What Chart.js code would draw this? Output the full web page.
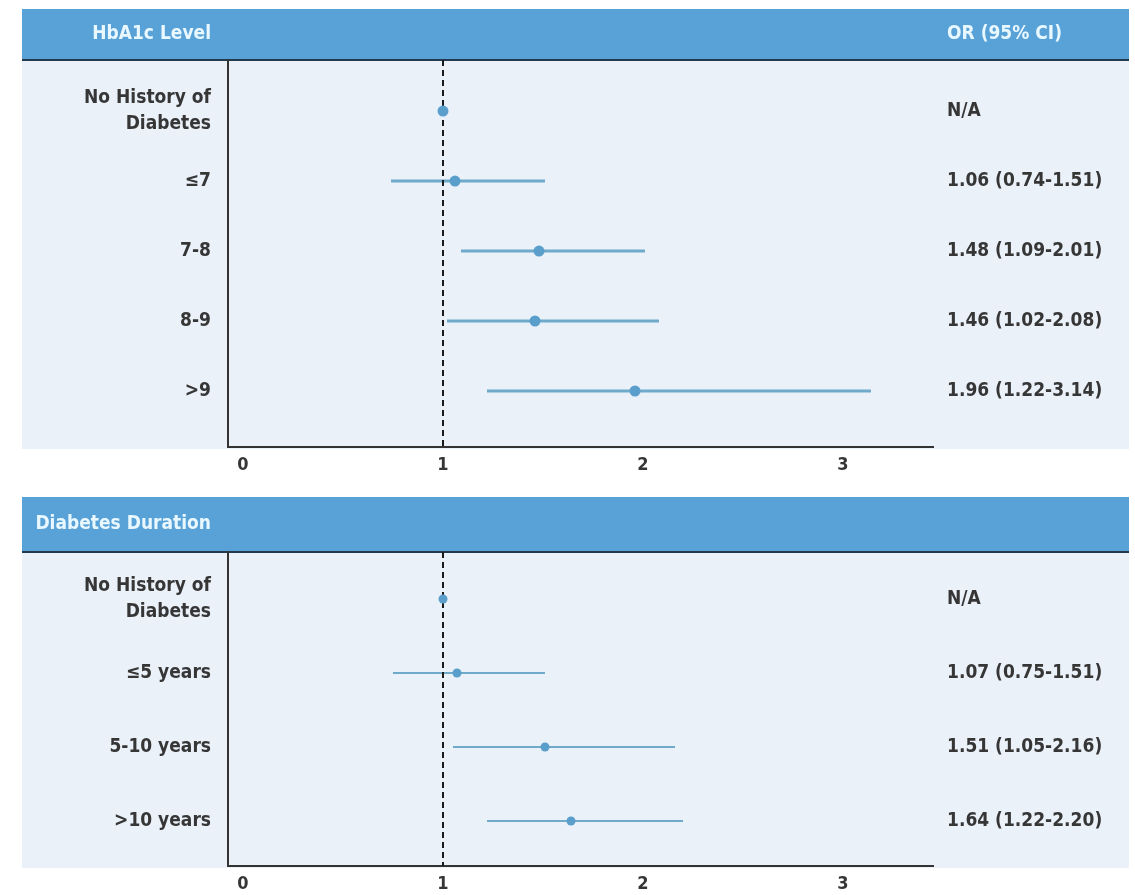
<!DOCTYPE html>
<html>
<head>
<meta charset="utf-8">
<title>Odds of outcome by HbA1c level and diabetes duration</title>
<script src="https://cdn.jsdelivr.net/npm/chart.js@4/dist/chart.umd.min.js"></script>
<style>
  html, body { margin: 0; padding: 0; background: #ffffff; }
  #wrap { position: relative; width: 1135px; height: 895px; }
  canvas { position: absolute; left: 0; }
</style>
</head>
<body>
<div id="wrap">
  <canvas id="hba1c" style="top:0px"></canvas>
  <canvas id="duration" style="top:482px"></canvas>
</div>
<script>
// ---- data ----
const hba1cTitle = 'HbA1c Level';
const hba1cCategories = [['No History of', 'Diabetes'], '≤7', '7-8', '8-9', '>9'];
const hba1cOR   = [1.00, 1.06, 1.48, 1.46, 1.96];
const hba1cLow  = [null, 0.74, 1.09, 1.02, 1.22];
const hba1cHigh = [null, 1.51, 2.01, 2.08, 3.14];

const durationTitle = 'Diabetes Duration';
const durationCategories = [['No History of', 'Diabetes'], '≤5 years', '5-10 years', '>10 years'];
const durationOR   = [1.00, 1.07, 1.51, 1.64];
const durationLow  = [null, 0.75, 1.05, 1.22];
const durationHigh = [null, 1.51, 2.16, 2.20];

const orColumnTitle = 'OR (95% CI)';
const xTickValues = [0, 1, 2, 3];
const referenceOR = 1;

// ---- styling ----
const FONT = "'DejaVu Sans Condensed', 'DejaVu Sans', sans-serif";
const HEADER_BLUE = '#58A2D8';
const HEADER_TEXT = '#E9F8FF';
const PANEL_BG = '#EBF1F9';
const INK = '#363636';
const CI_COLOR = '#6FAACB';
const DOT_COLOR = '#5A9FCB';

function orText(or, lo, hi) {
  if (lo === null || hi === null) return 'N/A';
  return or.toFixed(2) + ' (' + lo.toFixed(2) + '-' + hi.toFixed(2) + ')';
}

// Header band, panel background and dark rule under the header
const panelFrame = {
  id: 'panelFrame',
  beforeDraw(chart, args, o) {
    const ctx = chart.ctx;
    const area = chart.chartArea;
    ctx.save();
    ctx.fillStyle = PANEL_BG;
    ctx.fillRect(o.left, o.headerBottom, o.right - o.left, area.bottom + 2 - o.headerBottom);
    ctx.fillStyle = HEADER_BLUE;
    ctx.fillRect(o.left, o.headerTop, o.right - o.left, o.headerBottom - o.headerTop);
    ctx.fillStyle = '#22394E';
    ctx.fillRect(o.left, o.headerBottom - 1, o.right - o.left, 2);
    ctx.fillStyle = HEADER_TEXT;
    ctx.font = "700 19px " + FONT;
    ctx.textBaseline = 'middle';
    const midY = (o.headerTop + o.headerBottom) / 2;
    ctx.textAlign = 'right';
    ctx.fillText(o.title, o.titleRight, midY);
    if (o.rightTitle) {
      ctx.textAlign = 'left';
      ctx.fillText(o.rightTitle, o.rightTitleLeft, midY);
    }
    ctx.restore();
  }
};

function makePanel(canvasId, cfg) {
  const canvas = document.getElementById(canvasId);
  canvas.width = 1135;
  canvas.height = cfg.height;
  canvas.style.width = '1135px';
  canvas.style.height = cfg.height + 'px';

  const rowIdx = cfg.categories.map((_, i) => i);
  const rightLabels = cfg.or.map((v, i) => orText(v, cfg.low[i], cfg.high[i]));

  const datasets = [];
  // confidence interval segments
  rowIdx.forEach(i => {
    if (cfg.low[i] === null) return;
    datasets.push({
      type: 'line',
      data: [{ x: cfg.low[i], y: i }, { x: cfg.high[i], y: i }],
      borderColor: CI_COLOR,
      borderWidth: cfg.ciWidth,
      pointRadius: 0,
      fill: false,
      order: 3
    });
  });
  // reference line at OR = 1
  datasets.push({
    type: 'line',
    data: [{ x: referenceOR, y: cfg.yMin }, { x: referenceOR, y: cfg.yMax }],
    borderColor: '#1A1A1A',
    borderWidth: 2,
    borderDash: [6, 4],
    pointRadius: 0,
    fill: false,
    order: 2
  });
  // point estimates
  datasets.push({
    type: 'scatter',
    data: cfg.or.map((v, i) => ({ x: v, y: i })),
    backgroundColor: DOT_COLOR,
    borderWidth: 0,
    pointRadius: cfg.dotRadius,
    order: 1
  });

  const noEdgePadding = s => { s.paddingTop = 0; s.paddingBottom = 0; s.paddingLeft = 0; s.paddingRight = 0; };

  const yCommon = {
    type: 'linear',
    min: cfg.yMin,
    max: cfg.yMax,
    reverse: true,
    grid: { display: false },
    afterBuildTicks: s => { s.ticks = rowIdx.map(v => ({ value: v })); }
  };

  return new Chart(canvas, {
    type: 'scatter',
    data: { datasets },
    options: {
      responsive: false,
      animation: false,
      events: [],
      layout: { padding: { top: cfg.headerBottom, left: 0, right: 0, bottom: 0 } },
      plugins: {
        legend: { display: false },
        tooltip: { enabled: false },
        panelFrame: {
          left: 22, right: 1129,
          headerTop: cfg.headerTop, headerBottom: cfg.headerBottom,
          title: cfg.title, titleRight: 211,
          rightTitle: cfg.rightTitle, rightTitleLeft: 947
        }
      },
      scales: {
        x: {
          type: 'linear',
          min: -0.075,
          max: 3.45,
          grid: { display: false },
          border: { display: true, color: '#333333', width: 2 },
          afterBuildTicks: s => { s.ticks = xTickValues.map(v => ({ value: v })); },
          afterFit: s => { s.height = cfg.xAxisHeight; noEdgePadding(s); },
          ticks: {
            color: INK,
            padding: 0,
            font: { family: FONT, size: 18, weight: '700' },
            callback: v => String(v)
          }
        },
        y: Object.assign({}, yCommon, {
          position: 'left',
          border: { display: true, color: '#333333', width: 2 },
          afterFit: s => { s.width = 228; noEdgePadding(s); },
          ticks: {
            color: INK,
            padding: 9,
            font: { family: FONT, size: 19, weight: '700', lineHeight: 1.4 },
            callback: v => cfg.categories[v]
          }
        }),
        yR: Object.assign({}, yCommon, {
          position: 'right',
          border: { display: false },
          afterFit: s => { s.width = 202; noEdgePadding(s); },
          ticks: {
            color: INK,
            padding: 6,
            font: { family: FONT, size: 19, weight: '700' },
            callback: v => rightLabels[v]
          }
        })
      }
    },
    plugins: [panelFrame]
  });
}

makePanel('hba1c', {
  height: 482,
  headerTop: 9, headerBottom: 60,
  xAxisHeight: 35,
  yMin: -0.729, yMax: 4.8,
  title: hba1cTitle, rightTitle: orColumnTitle,
  categories: hba1cCategories, or: hba1cOR, low: hba1cLow, high: hba1cHigh,
  ciWidth: 3, dotRadius: 5.5
});

makePanel('duration', {
  height: 413,
  headerTop: 15, headerBottom: 70,
  xAxisHeight: 29,
  yMin: -0.635, yMax: 3.608,
  title: durationTitle, rightTitle: null,
  categories: durationCategories, or: durationOR, low: durationLow, high: durationHigh,
  ciWidth: 2, dotRadius: 4.5
});
</script>
</body>
</html>
